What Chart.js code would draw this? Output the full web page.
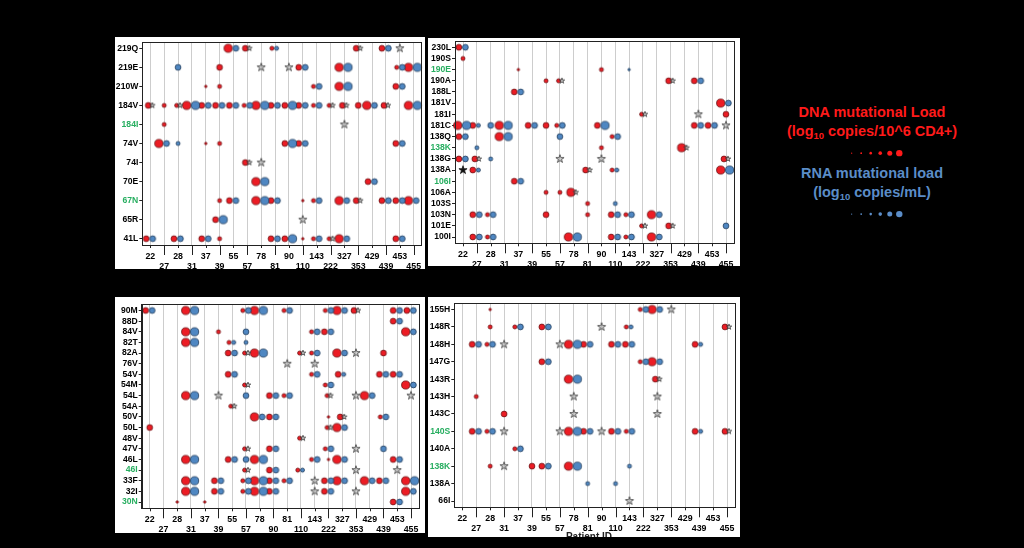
<!DOCTYPE html>
<html>
<head>
<meta charset="utf-8">
<script src="https://cdn.jsdelivr.net/npm/chart.js@4.4.1/dist/chart.umd.min.js"></script>
<style>
html, body { margin: 0; padding: 0; background: #000; width: 1024px; height: 548px; overflow: hidden; font-family: "Liberation Sans", Arial, sans-serif; }
.panel { position: absolute; background: #fff; overflow: hidden; }
.panel canvas { position: absolute; left: 0; top: 0; }
.lg { position: absolute; left: 772px; width: 200px; text-align: center; font-weight: bold; font-size: 14.5px; line-height: 16px; white-space: nowrap; }
.lg sub { font-size: 9.5px; vertical-align: -3px; line-height: 0; }
.red { color: #ff1a1a; }
.blue { color: #5b8dc8; }
#xtitle { position: absolute; left: 0; width: 100%; top: 235px; text-align: center; font-weight: bold; font-size: 10px; line-height: 10px; color: #222; padding-left: 10px; box-sizing: border-box; }
#legend { position: absolute; left: 845px; top: 144px; }
</style>
</head>
<body>
<div class="panel" id="p1"><canvas id="c1"></canvas></div>
<div class="panel" id="p2"><canvas id="c2"></canvas></div>
<div class="panel" id="p3"><canvas id="c3"></canvas></div>
<div class="panel" id="p4"><canvas id="c4"></canvas><div id="xtitle">Patient ID</div></div>

<div class="lg red" style="top:104px">DNA mutational Load</div>
<div class="lg red" style="top:123px">(log<sub>10</sub> copies/10^6 CD4+)</div>
<div class="lg blue" style="top:165px">RNA mutational load</div>
<div class="lg blue" style="top:184px">(log<sub>10</sub> copies/mL)</div>
<canvas id="legend" width="60" height="78"></canvas>

<script>
// patient order on the x axis (the lower-left panel has 90 and 81 swapped)
const patients = ['22','27','28','31','37','39','55','57','78','81','90','110','143','222','327','353','429','439','453','455']
const patientsAlt = ['22','27','28','31','37','39','55','57','78','90','81','110','143','222','327','353','429','439','453','455']

// one character per patient: '.' none, 1-4 load level; rna '*' = star, 'k' = black star
const p1Rows = ['219Q','219E','210W','184V','184I','74V','74I','70E','67N','65R','41L']
const p1Dna = [
    '......43.2.....3.3..',
    '.....3.....3..4...24',
    '....12......2.4...3.',
    '322433324333223343.4',
    '.2..................',
    '.4..12....33......3.',
    '.......3............',
    '........4.......3...',
    '.....23.43.12.43.334',
    '.....3..............',
    '3.3.32...331224...3.'
]
const p1Rna = [
    '......3*.2.....*.3*.',
    '..3.....*.*3..4...34',
    '............3.4...3.',
    '*.*4333343433**.3*.4',
    '..............*.....',
    '.32.......43......3.',
    '.......**...........',
    '........4.......3...',
    '......3.43..3.3*.333',
    '.....4.....*........',
    '3.3.3....34.3*3...3.'
]

const p2Rows = ['230L','190S','190E','190A','188L','181V','181I','181C','138Q','138K','138G','138A','106I','106A','103S','103N','101E','100I']
const p2Dna = [
    '3...................',
    '2...................',
    '....1.....2.........',
    '......22.......3.3..',
    '....3...............',
    '...................4',
    '.............2.....3',
    '43.4.332..3......33.',
    '3..4.......2........',
    '..........2.....4...',
    '33.................3',
    '.3.......3.2.......4',
    '....3...............',
    '......224...........',
    '.........2..........',
    '.32...3..2.32.4.....',
    '.............2.3....',
    '.32.....4..32.4.....'
]
const p2Rna = [
    '3...................',
    '....................',
    '............1.......',
    '.......*.......*.3..',
    '....3...............',
    '...................3',
    '.............*...*..',
    '4234.3.3..4......33*',
    '3..4...3...3........',
    '.2..............*...',
    '3*2....*..*........*',
    'k2.......*.2.......4',
    '....3...............',
    '........*...........',
    '...........2........',
    '.33........33.3.....',
    '.............*.*...3',
    '.33.....4..33.3.....'
]

const p3Rows = ['90M','88D','84V','82T','82A','76V','54V','54M','54L','54A','50V','50L','48V','47V','46L','46I','33F','32I','30N']
const p3Dna = [
    '3..4...24.2..243..33',
    '..................3.',
    '...4.2......23.....4',
    '...4..2.............',
    '......324..22.4..3..',
    '....................',
    '......3.....2.3..33.',
    '.......2.....2.....4',
    '...4.....32..2..4...',
    '......2.............',
    '........43...13..2..',
    '3............24.....',
    '...........2........',
    '.......2.3...2......',
    '...4..3.4...214...3.',
    '.......2.3.2........',
    '...4.3.2432..34.43.4',
    '...4.3.243...3.....4',
    '..1.1.............3.'
]
const p3Rna = [
    '3..4...34.3..33*..33',
    '..................3.',
    '...4...3....33.....3',
    '...4..22............',
    '......3*4..*3.3*....',
    '..........*.*.......',
    '......3.....3.2..33.',
    '.......*.....3.....3',
    '...4.*.3.33..*.*3..*',
    '......*.............',
    '........33....*..3..',
    '.............*3.....',
    '...........*........',
    '.......*.3...3.*.3..',
    '...4..334...3.3...3.',
    '.......*.3.2...*..*.',
    '...4.3.3433.*33.33.4',
    '...4.3.343..*3.*...3',
    '..................3.'
]

const p4Rows = ['155H','148R','148H','147G','143R','143H','143C','140S','140A','138K','138A','66I']
const p4Dna = [
    '..1..........24.....',
    '..2.2.3.....2......3',
    '.32.....43.33....3..',
    '......3......24.....',
    '........4.....3.....',
    '.2..................',
    '...3................',
    '.32.....43.32....3.3',
    '....2...............',
    '..2..33.4...........',
    '....................',
    '....................'
]
const p4Rna = [
    '.............33*....',
    '....3.3...*.2......*',
    '.33*...*43.33....2..',
    '......3......33.....',
    '........4.....*.....',
    '........*.....*.....',
    '........*.....*.....',
    '.33*...*43*33....2.*',
    '....3...............',
    '...*..3.4...2.......',
    '.........2.2........',
    '............*.......'
]

const greenRows = ['184I','67N','190E','138K','106I','46I','30N','140S']
const legendRadius = [0.6, 0.9, 1.3, 1.8, 2.5, 3.2]

const RADIUS = [0, 1.2, 2.0, 2.9, 4.1]
const RED = '#ec1c24', RED_EDGE = '#6b0f12'
const BLUE = '#4f87c2', BLUE_EDGE = '#223c5a'
const GREEN = '#27ae60'
const FONT = 'Liberation Sans'

const markCache = {}

function drawStar(g, cx, cy, r, fill, stroke) {
    g.beginPath()
    for (let k = 0; k < 10; k++) {
        const a = -Math.PI / 2 + k * Math.PI / 5
        const rr = k % 2 ? r * 0.38 : r
        g.lineTo(cx + rr * Math.cos(a), cy + rr * Math.sin(a))
    }
    g.closePath()
    g.fillStyle = fill
    g.fill()
    g.strokeStyle = stroke
    g.lineWidth = 0.8
    g.stroke()
}

// image used as pointStyle, drawn centred on the patient line; dodged marks sit beside it
function makeMark(kind, level, partner) {
    const key = kind + level + partner
    if (markCache[key]) return markCache[key]
    let r, dx
    if (kind === 'star' || kind === 'kstar') {
        r = partner ? 2.9 : 4.3
        dx = partner ? 2 : 0
    } else {
        r = RADIUS[level]
        if (!partner) dx = 0
        else if (kind === 'dna') dx = partner === 'star' ? -r * 0.7 : -(r + 1.2)
        else dx = r - 0.5
    }
    const w = Math.ceil(Math.abs(dx) + r + 2) * 2
    const h = Math.ceil(r + 2) * 2
    const c = document.createElement('canvas')
    c.width = w
    c.height = h
    const g = c.getContext('2d')
    const cx = w / 2 + dx, cy = h / 2
    if (kind === 'star') {
        drawStar(g, cx, cy, r, 'rgba(170,170,170,0.55)', '#3a3a3a')
    } else if (kind === 'kstar') {
        drawStar(g, cx, cy, r, '#111', '#111')
    } else {
        g.beginPath()
        g.arc(cx, cy, r, 0, Math.PI * 2)
        g.fillStyle = kind === 'dna' ? RED : BLUE
        g.fill()
        g.strokeStyle = kind === 'dna' ? RED_EDGE : BLUE_EDGE
        g.lineWidth = 0.8
        g.stroke()
    }
    markCache[key] = c
    return c
}

function buildPoints(rows, dna, rna) {
    const red = [], blue = [], stars = []
    rows.forEach((_, y) => {
        for (let x = 0; x < 20; x++) {
            const d = dna[y][x], v = rna[y][x]
            const hasD = d !== '.'
            const hasB = /[0-9]/.test(v)
            const hasS = v === '*' || v === 'k'
            if (hasD) red.push({ x: x, y: y, img: makeMark('dna', +d, hasB ? 'blue' : hasS ? 'star' : '') })
            if (hasB) blue.push({ x: x, y: y, img: makeMark('rna', +v, hasD ? 'red' : '') })
            if (hasS) stars.push({ x: x, y: y, img: makeMark(v === 'k' ? 'kstar' : 'star', 0, hasD ? 'red' : '') })
        }
    })
    return { red, blue, stars }
}

const framePlugin = {
    id: 'frame',
    afterDraw(chart) {
        const { ctx, chartArea: a } = chart
        const xs = chart.scales.x
        ctx.save()
        ctx.strokeStyle = '#222'
        ctx.lineWidth = 1
        ctx.strokeRect(Math.round(a.left) + 0.5, Math.round(a.top) + 0.5, Math.round(a.right - a.left), Math.round(a.bottom - a.top))
        ctx.beginPath()
        xs.ticks.forEach((t, i) => {
            const px = Math.round(xs.getPixelForValue(t.value)) + 0.5
            ctx.moveTo(px, a.bottom)
            ctx.lineTo(px, a.bottom + (i % 2 ? 10 : 3))
        })
        ctx.stroke()
        ctx.restore()
    }
}

function noPad(s) {
    s.paddingLeft = s.paddingRight = s.paddingTop = s.paddingBottom = 0
}

function makePanel(id, canvasId, box, area, pats, rows, dna, rna) {
    const div = document.getElementById(id)
    div.style.left = box.x + 'px'
    div.style.top = box.y + 'px'
    div.style.width = box.w + 'px'
    div.style.height = box.h + 'px'
    const canvas = document.getElementById(canvasId)
    canvas.width = box.w
    canvas.height = box.h

    const aw = area.r - area.l, ah = area.b - area.t
    const xpad = 8 * 19 / (aw - 16)
    const ypad = 6.3 * (rows.length - 1) / (ah - 12.6)
    const pts = buildPoints(rows, dna, rna)
    const ds = (data) => ({
        data: data,
        pointStyle: c => c.raw && c.raw.img,
        pointRadius: 3,
        clip: false
    })

    return new Chart(canvas, {
        type: 'scatter',
        data: { datasets: [ds(pts.blue), ds(pts.stars), ds(pts.red)] },
        options: {
            responsive: false,
            animation: false,
            events: [],
            layout: {
                autoPadding: false,
                padding: { left: 0, top: area.t - box.y, right: box.x + box.w - area.r, bottom: 0 }
            },
            plugins: { legend: { display: false }, tooltip: { enabled: false } },
            scales: {
                x: {
                    type: 'linear',
                    min: -xpad,
                    max: 19 + xpad,
                    afterBuildTicks: s => { s.ticks = pats.map((p, i) => ({ value: i })) },
                    afterFit: s => { s.height = box.y + box.h - area.b; noPad(s) },
                    grid: { color: '#cdcdcd', lineWidth: 1, drawTicks: false },
                    border: { color: '#222', width: 1 },
                    ticks: {
                        autoSkip: false,
                        maxRotation: 0,
                        padding: 7,
                        color: '#000',
                        font: { family: FONT, weight: 'bold', size: 8.8, lineHeight: 1.08 },
                        callback: v => v % 2 ? ['', pats[v]] : pats[v]
                    }
                },
                y: {
                    type: 'linear',
                    reverse: true,
                    min: -ypad,
                    max: rows.length - 1 + ypad,
                    afterBuildTicks: s => { s.ticks = rows.map((r, i) => ({ value: i })) },
                    afterFit: s => { s.width = area.l - box.x; noPad(s) },
                    grid: { drawOnChartArea: false, tickLength: 3, tickColor: '#222' },
                    border: { color: '#222', width: 1 },
                    ticks: {
                        autoSkip: false,
                        padding: 1,
                        font: { family: FONT, weight: 'bold', size: 8.6 },
                        color: c => greenRows.includes(rows[c.tick.value]) ? GREEN : '#000',
                        callback: v => rows[v]
                    }
                }
            }
        },
        plugins: [framePlugin]
    })
}

makePanel('p1', 'c1', { x: 115, y: 37, w: 310, h: 232 }, { l: 142.3, t: 42, r: 421.7, b: 245 }, patients, p1Rows, p1Dna, p1Rna)
makePanel('p2', 'c2', { x: 428, y: 38, w: 312, h: 228 }, { l: 455, t: 41, r: 734, b: 243.3 }, patients, p2Rows, p2Dna, p2Rna)
makePanel('p3', 'c3', { x: 115, y: 297, w: 310, h: 236 }, { l: 141.7, t: 304.2, r: 419, b: 508.3 }, patientsAlt, p3Rows, p3Dna, p3Rna)
makePanel('p4', 'c4', { x: 428, y: 297, w: 312, h: 240 }, { l: 454.3, t: 303.2, r: 735, b: 507.3 }, patients, p4Rows, p4Dna, p4Rna)

// size key for the two loads
new Chart(document.getElementById('legend'), {
    type: 'scatter',
    data: {
        datasets: [
            { data: legendRadius.map((r, i) => ({ x: i, y: 0 })), pointRadius: legendRadius, backgroundColor: '#ff1a1a', borderWidth: 0 },
            { data: legendRadius.map((r, i) => ({ x: i, y: 1 })), pointRadius: legendRadius, backgroundColor: '#5b8dc8', borderWidth: 0 }
        ]
    },
    options: {
        responsive: false,
        animation: false,
        events: [],
        layout: { autoPadding: false, padding: 0 },
        plugins: { legend: { display: false }, tooltip: { enabled: false } },
        scales: {
            x: { type: 'linear', display: false, min: -0.7, max: 5.6 },
            y: { type: 'linear', display: false, reverse: true, min: -0.15, max: 1.13 }
        }
    }
})
</script>
</body>
</html>
